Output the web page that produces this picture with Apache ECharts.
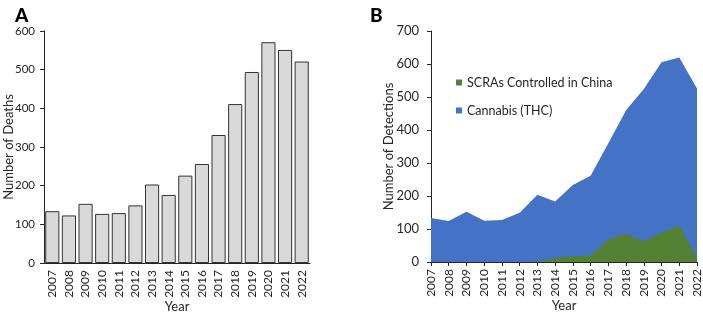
<!DOCTYPE html>
<html>
<head>
<meta charset="utf-8">
<script src="https://cdn.jsdelivr.net/npm/echarts@6/dist/echarts.min.js"></script>
<style>
  html, body { margin: 0; padding: 0; background: #fff; }
  #char1 { width: 703px; height: 314px; }
</style>
</head>
<body>
<div id="char1"></div>
<script>
  // 年份
  var years = ['2007','2008','2009','2010','2011','2012','2013','2014','2015','2016','2017','2018','2019','2020','2021','2022'];
  // A: deaths
  var deaths = [134, 123, 153, 127, 129, 149, 203, 176, 226, 256, 331, 411, 494, 571, 551, 521];
  // B: detections
  var cannabis = [133, 124, 152, 125, 127, 149, 204, 183, 233, 261, 360, 460, 524, 605, 620, 526];
  var scras = [0, 0, 0, 0, 0, 0, 1, 12, 18, 19, 69, 85, 63, 89, 110, 12];

  var fontFam = 'Lato, "Open Sans", sans-serif';
  var axisColor = '#262626';
  var textColor = '#262626';

  var dom = document.getElementById("char1");
  var myChart = echarts.init(dom);
  var option = {
      animation: false,
      textStyle: { fontFamily: fontFam },
      title: [
          { text: 'A', left: 10, top: 1, textStyle: { fontSize: 19, fontWeight: 900, color: '#000', fontFamily: fontFam } },
          { text: 'B', left: 365, top: 1, textStyle: { fontSize: 19, fontWeight: 900, color: '#000', fontFamily: fontFam } }
      ],
      legend: {
          orient: 'vertical',
          left: 451,
          top: 71,
          itemWidth: 6,
          itemHeight: 6,
          itemGap: 15,
          icon: 'rect',
          data: ['SCRAs Controlled in China', 'Cannabis (THC)'],
          textStyle: { fontSize: 12.5, color: textColor, fontFamily: fontFam }
      },
      grid: [
          { left: 44, top: 31, width: 266, height: 232, containLabel: false, outerBoundsMode: 'none' },
          { left: 431, top: 31, width: 266, height: 231, containLabel: false, outerBoundsMode: 'none' }
      ],
      xAxis: [
          {
              gridIndex: 0,
              type: 'category',
              data: years,
              name: 'Year',
              nameLocation: 'middle',
              nameGap: 37,
              nameMoveOverlap: false,
              nameTextStyle: { fontSize: 13, color: textColor },
              axisLine: { lineStyle: { color: axisColor } },
              axisTick: { length: 4, lineStyle: { color: axisColor } },
              axisLabel: { rotate: 90, fontSize: 12, color: textColor, interval: 0, margin: 7 }
          },
          {
              gridIndex: 1,
              type: 'category',
              data: years,
              boundaryGap: false,
              name: 'Year',
              nameLocation: 'middle',
              nameGap: 37,
              nameMoveOverlap: false,
              nameTextStyle: { fontSize: 13, color: textColor },
              axisLine: { lineStyle: { color: axisColor } },
              axisTick: { length: 4, lineStyle: { color: axisColor } },
              axisLabel: { rotate: 90, fontSize: 12, color: textColor, interval: 0, margin: 7 }
          }
      ],
      yAxis: [
          {
              gridIndex: 0,
              type: 'value',
              min: 0,
              max: 600,
              interval: 100,
              name: 'Number of Deaths',
              nameLocation: 'middle',
              nameGap: 29,
              nameMoveOverlap: false,
              nameTextStyle: { fontSize: 13, color: textColor },
              axisLine: { show: true, lineStyle: { color: axisColor } },
              axisTick: { show: true, length: 4, lineStyle: { color: axisColor } },
              axisLabel: { fontSize: 11.5, color: textColor, margin: 9 },
              splitLine: { show: false }
          },
          {
              gridIndex: 1,
              type: 'value',
              min: 0,
              max: 700,
              interval: 100,
              name: 'Number of Detections',
              nameLocation: 'middle',
              nameGap: 36,
              nameMoveOverlap: false,
              nameTextStyle: { fontSize: 13, color: textColor },
              axisLine: { show: true, lineStyle: { color: axisColor } },
              axisTick: { show: true, length: 4, lineStyle: { color: axisColor } },
              axisLabel: { fontSize: 13, color: textColor, margin: 12 },
              splitLine: { show: false }
          }
      ],
      series: [
          {
              name: 'Deaths',
              type: 'bar',
              xAxisIndex: 0,
              yAxisIndex: 0,
              data: deaths,
              barCategoryGap: '15%',
              itemStyle: { color: '#d9d9d9', borderColor: '#333', borderWidth: 1 }
          },
          {
              name: 'Cannabis (THC)',
              type: 'line',
              xAxisIndex: 1,
              yAxisIndex: 1,
              data: cannabis,
              symbol: 'none',
              lineStyle: { width: 0 },
              itemStyle: { color: '#4472c4' },
              areaStyle: { color: '#4472c4', opacity: 1 }
          },
          {
              name: 'SCRAs Controlled in China',
              type: 'line',
              xAxisIndex: 1,
              yAxisIndex: 1,
              data: scras,
              symbol: 'none',
              lineStyle: { width: 0 },
              itemStyle: { color: '#548235' },
              areaStyle: { color: '#548235', opacity: 1 }
          }
      ]
  };
  if (option && typeof option === "object") {
      myChart.setOption(option, true);
  }
</script>
</body>
</html>
